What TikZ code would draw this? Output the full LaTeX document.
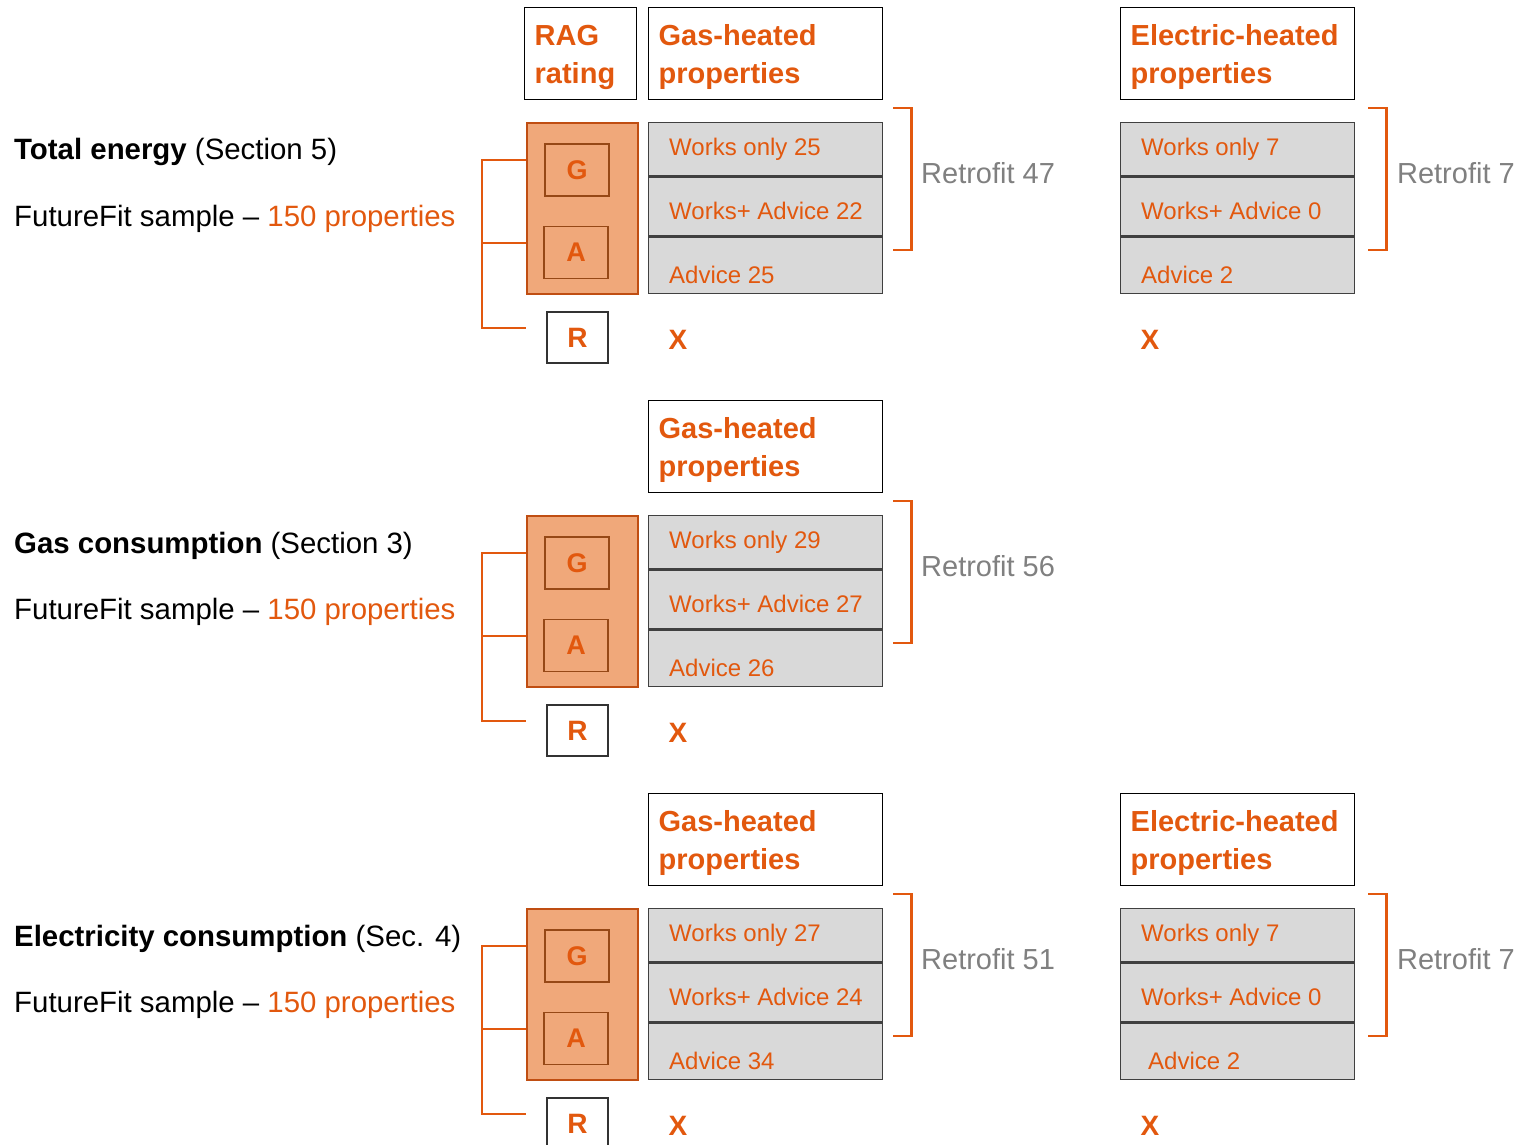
\documentclass[tikz,border=0pt]{standalone}
\usepackage{fontspec}
\setmainfont{Liberation Sans}

\definecolor{rag}{RGB}{226,88,14}
\definecolor{ragfill}{RGB}{240,168,122}
\definecolor{ragline}{RGB}{192,78,18}
\definecolor{gaframe}{RGB}{150,72,22}
\definecolor{cellfill}{RGB}{217,217,217}
\definecolor{cellline}{RGB}{64,64,64}
\definecolor{retrogray}{RGB}{128,128,128}

\newcommand{\hdrstrut}{\rule{0pt}{27pt}}

\tikzset{
  hdr/.style={draw=black, line width=1.3pt, anchor=north west, align=left,
    inner ysep=0pt, minimum height=92pt, text=rag,
    font=\bfseries\fontsize{29}{38}\selectfont},
  ragbox/.style={draw=ragline, fill=ragfill, line width=2pt, anchor=north west,
    minimum width=111pt, minimum height=171pt},
  gabox/.style={draw=gaframe, line width=1.3pt, minimum width=64pt, minimum height=52pt,
    text=rag, font=\bfseries\fontsize{27}{30}\selectfont},
  rbox/.style={draw=black!80, fill=white, line width=1.3pt, minimum width=61pt,
    minimum height=51pt, text=rag, font=\bfseries\fontsize{28}{30}\selectfont},
  cell/.style={draw=cellline, fill=cellfill, line width=1.4pt, anchor=north west,
    minimum width=234pt, inner sep=0pt},
  sepline/.style={draw=cellline, line width=3pt},
  celltext/.style={anchor=base west, inner sep=0pt, text=rag, font=\fontsize{24}{28}\selectfont},
  retro/.style={anchor=base west, inner sep=0pt, text=retrogray, font=\fontsize{29}{32}\selectfont},
  xmark/.style={inner sep=0pt, text=rag, font=\bfseries\fontsize{28}{30}\selectfont},
  bracket/.style={draw=rag, line width=2.5pt},
  lbl/.style={anchor=base west, inner sep=0pt, font=\fontsize{29.4}{32}\selectfont}
}

\begin{document}
\begin{tikzpicture}[x=1pt,y=-1pt]
  \useasboundingbox (0,0) rectangle (1520,1145);

  % Kopfzeile RAG
  \node[hdr, text width=92pt, inner xsep=10pt] (raghead) at (524,7) {\hdrstrut RAG\\rating};

  % Kopfboxen Gas / Strom
  \foreach \off/\dx/\kind/\nm in {0/0/Gas/ga,393/0/Gas/gb,786/0/Gas/gc,0/472/Electric/ea,786/472/Electric/ec} {
    \node[hdr, text width=214pt, inner xsep=10pt] (head\nm) at (648+\dx,7+\off) {\hdrstrut\kind-heated\\properties};
  }

  % Abschnitte links: Titel, RAG-Block, Klammer
  \foreach \s/\off/\title/\sec in {a/0/Total energy/Section 5,b/393/Gas consumption/Section 3,c/786/Electricity consumption/Sec. 4} {
    \begin{scope}[yshift=-\off pt]
      \node[lbl] (title\s) at (14,160) {\textbf{\title} (\sec)};
      \node[lbl] (sample\s) at (14,226) {FutureFit sample -- \textcolor{rag}{150 properties}};
      \node[ragbox] (rag\s) at (526,122) {};
      \node[gabox] (g\s) at (577,170) {G};
      \node[gabox] (a\s) at (576,252.5) {A};
      \node[rbox] (r\s) at (577.5,337.5) {R};
      \draw[bracket] (rag\s.west |- 0,160) -- (482,160) -- (482,328) -- (rag\s.west |- 0,328);
      \draw[bracket] (482,243) -- (rag\s.west |- 0,243);
    \end{scope}
  }

  % Stapel mit Zahlen
  \foreach \s/\off/\dx/\rx/\wo/\wa/\ad/\ax/\rf in {ga/0/0/0/25/22/25/669/47,gb/393/0/0/29/27/26/669/56,gc/786/0/0/27/24/34/669/51,ea/0/472/3/7/0/2/669/7,ec/786/472/3/7/0/2/676/7} {
    \begin{scope}[yshift=-\off pt, xshift=\dx pt]
      \node[cell, minimum height=53pt] (\s1) at (648,122) {};
      \node[cell, minimum height=60pt] (\s2) at (648,175) {};
      \node[cell, minimum height=58pt] (\s3) at (648,235) {};
      \draw[sepline] (\s1.south west) -- (\s1.south east);
      \draw[sepline] (\s2.south west) -- (\s2.south east);
      \node[celltext] (\s wo) at (669,155) {Works only \wo};
      \node[celltext] (\s wa) at (669,219) {Works+ Advice \wa};
      \node[celltext] (\s ad) at (\ax,283) {Advice \ad};
      \draw[bracket] ([xshift=10pt+\rx pt,yshift=14pt]\s1.north east) -| ([xshift=28pt+\rx pt,yshift=-15pt]\s3.north east)
        -- ([xshift=10pt+\rx pt,yshift=-15pt]\s3.north east);
      \node[retro] (\s rf) at (921+\rx*1.3,183) {Retrofit \rf};
      \node[xmark] (\s x) at (678,340) {X};
    \end{scope}
  }
\end{tikzpicture}
\end{document}
